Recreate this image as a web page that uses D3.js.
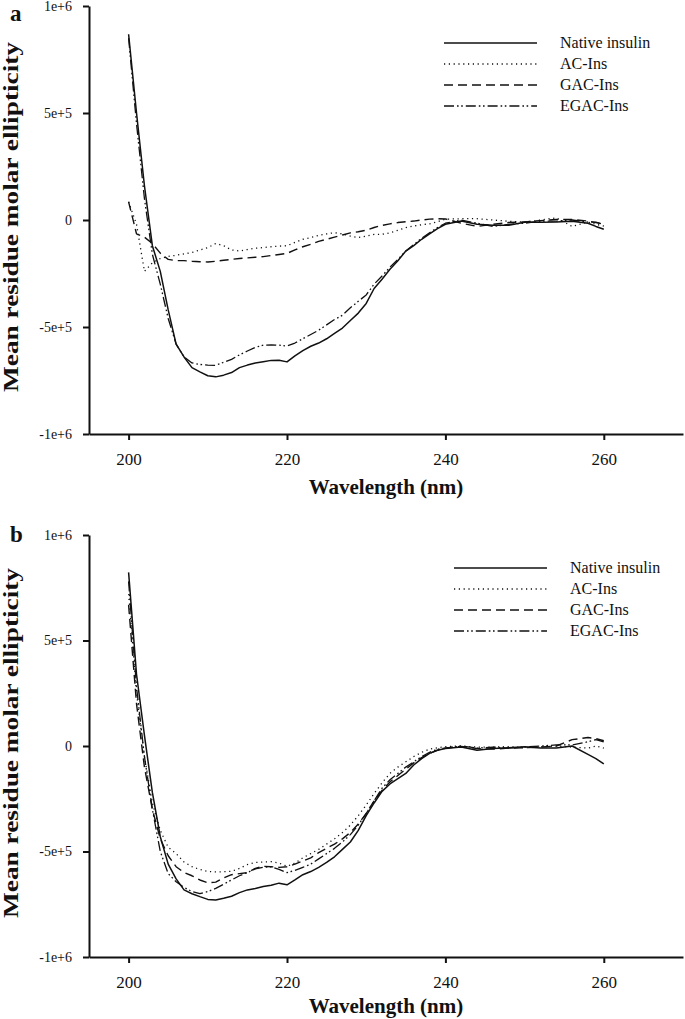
<!DOCTYPE html>
<html>
<head>
<meta charset="utf-8">
<script src="https://cdn.jsdelivr.net/npm/d3@7"></script>
<style>
  html, body { margin: 0; padding: 0; background: #fff; }
  svg { display: block; }
  text { font-family: "Liberation Serif", "Times New Roman", serif; fill: #111; }
</style>
</head>
<body>
<svg id="chart" width="685" height="1019"></svg>
<script>
// ---------------- data ----------------
const wavelengths = [200,201,202,203,204,205,206,207,208,209,210,211,212,213,214,215,216,217,218,219,220,221,222,223,224,225,226,227,228,229,230,231,232,233,234,235,236,237,238,239,240,242,244,246,248,250,252,254,256,258,259,260];

const seriesNames = ["Native insulin", "AC-Ins", "GAC-Ins", "EGAC-Ins"];

// Panel a (values in units of 1e6)
const nativeA = [0.868,0.50,0.16,-0.12,-0.24,-0.42,-0.58,-0.64,-0.69,-0.71,-0.728,-0.733,-0.725,-0.713,-0.69,-0.678,-0.668,-0.662,-0.656,-0.655,-0.663,-0.635,-0.61,-0.59,-0.575,-0.555,-0.53,-0.505,-0.47,-0.435,-0.39,-0.32,-0.277,-0.23,-0.19,-0.145,-0.12,-0.09,-0.065,-0.04,-0.02,-0.005,-0.02,-0.025,-0.025,-0.01,-0.01,-0.009,-0.006,-0.015,-0.03,-0.043];
const acA = [0.085,-0.02,-0.24,-0.2,-0.18,-0.17,-0.165,-0.158,-0.152,-0.14,-0.129,-0.11,-0.12,-0.14,-0.145,-0.138,-0.132,-0.129,-0.125,-0.122,-0.12,-0.105,-0.09,-0.082,-0.072,-0.065,-0.059,-0.065,-0.075,-0.082,-0.075,-0.067,-0.067,-0.06,-0.048,-0.036,-0.028,-0.022,-0.018,-0.008,0.004,0.006,0.006,0.0,-0.006,-0.01,0.0,0.01,-0.03,-0.01,-0.02,-0.028];
const gacA = [0.085,-0.065,-0.08,-0.11,-0.155,-0.184,-0.19,-0.19,-0.193,-0.195,-0.196,-0.193,-0.188,-0.184,-0.18,-0.177,-0.174,-0.171,-0.166,-0.161,-0.156,-0.14,-0.125,-0.114,-0.1,-0.09,-0.08,-0.07,-0.06,-0.055,-0.048,-0.035,-0.025,-0.018,-0.012,-0.008,-0.005,0.0,0.004,0.006,0.005,-0.015,-0.03,-0.02,-0.012,-0.009,-0.003,0.003,0.002,-0.005,-0.012,-0.02];
const egacA = [0.85,0.45,0.10,-0.16,-0.30,-0.46,-0.58,-0.64,-0.668,-0.675,-0.678,-0.679,-0.665,-0.651,-0.63,-0.612,-0.595,-0.585,-0.584,-0.585,-0.589,-0.575,-0.555,-0.535,-0.515,-0.49,-0.465,-0.445,-0.41,-0.38,-0.35,-0.30,-0.262,-0.22,-0.184,-0.145,-0.115,-0.085,-0.06,-0.035,-0.015,0.0,-0.015,-0.03,-0.02,-0.015,-0.005,-0.005,0.0,-0.01,-0.01,-0.02];

// Panel b (values in units of 1e6)
const nativeB = [0.823,0.34,0.05,-0.22,-0.43,-0.56,-0.63,-0.682,-0.70,-0.714,-0.727,-0.73,-0.722,-0.712,-0.695,-0.682,-0.675,-0.666,-0.66,-0.65,-0.658,-0.635,-0.61,-0.595,-0.575,-0.552,-0.525,-0.49,-0.455,-0.40,-0.33,-0.27,-0.215,-0.18,-0.155,-0.13,-0.09,-0.06,-0.035,-0.02,-0.012,-0.005,-0.02,-0.012,-0.008,-0.004,-0.01,-0.01,0.0,-0.04,-0.06,-0.085];
const acB = [0.72,0.25,-0.05,-0.27,-0.40,-0.48,-0.51,-0.55,-0.572,-0.585,-0.595,-0.597,-0.596,-0.594,-0.58,-0.562,-0.552,-0.55,-0.548,-0.555,-0.57,-0.555,-0.53,-0.51,-0.49,-0.465,-0.44,-0.41,-0.375,-0.33,-0.28,-0.225,-0.175,-0.13,-0.10,-0.075,-0.05,-0.03,-0.015,-0.008,-0.003,0.0,-0.005,-0.005,-0.003,-0.008,-0.004,0.0,-0.005,-0.01,0.0,-0.01];
const gacB = [0.668,0.20,-0.10,-0.30,-0.44,-0.52,-0.572,-0.60,-0.615,-0.635,-0.648,-0.645,-0.625,-0.61,-0.605,-0.60,-0.58,-0.57,-0.572,-0.575,-0.572,-0.56,-0.545,-0.53,-0.505,-0.485,-0.465,-0.44,-0.41,-0.37,-0.32,-0.26,-0.21,-0.17,-0.14,-0.11,-0.08,-0.055,-0.035,-0.02,-0.01,-0.002,-0.012,-0.015,-0.01,-0.008,-0.005,0.0,0.03,0.04,0.035,0.025];
const egacB = [0.78,0.28,-0.05,-0.30,-0.50,-0.605,-0.643,-0.67,-0.69,-0.70,-0.69,-0.675,-0.655,-0.635,-0.615,-0.60,-0.582,-0.575,-0.572,-0.585,-0.60,-0.59,-0.575,-0.56,-0.535,-0.51,-0.485,-0.455,-0.42,-0.375,-0.32,-0.26,-0.20,-0.16,-0.13,-0.10,-0.075,-0.05,-0.03,-0.015,-0.01,0.0,-0.01,-0.005,-0.01,-0.005,0.0,0.005,0.005,0.02,0.03,0.02];

const xTicks = [200, 220, 240, 260];
const yTicks = [-1e6, -5e5, 0, 5e5, 1e6];
const yTickLabels = ["-1e+6", "-5e+5", "0", "5e+5", "1e+6"];
const panelLabels = ["a", "b"];

// ---------------- styles ----------------
const dashes = [null, "1.2,3.6", "9,5", "10,3,1.6,2.6,1.6,3"];
const widths = [1.5, 1.3, 1.4, 1.3];

const svg = d3.select("#chart");

const panels = [
  { label: panelLabels[0], series: [nativeA, acA, gacA, egacA], top: 6, bottom: 434, legendX: 444, legendY: 43, labelY: 21, titleY: 494 },
  { label: panelLabels[1], series: [nativeB, acB, gacB, egacB], top: 535, bottom: 957, legendX: 454, legendY: 568, labelY: 542, titleY: 1013 }
];

panels.forEach(p => {
  const g = svg.append("g");
  const x = d3.scaleLinear().domain([195, 270]).range([89, 683]);
  const y = d3.scaleLinear().domain([-1e6, 1e6]).range([p.bottom, p.top]);

  // data lines
  const line = d3.line()
    .x(d => x(d[0]))
    .y(d => y(d[1] * 1e6));

  p.series.forEach((vals, i) => {
    const pts = wavelengths.map((w, k) => [w, vals[k]]);
    g.append("path")
      .datum(pts)
      .attr("d", line)
      .attr("fill", "none")
      .attr("stroke", "#111")
      .attr("stroke-width", widths[i])
      .attr("stroke-linejoin", "round")
      .attr("stroke-dasharray", dashes[i]);
  });

  // y axis
  const ya = g.append("g")
    .attr("transform", `translate(${x(195)},0)`)
    .call(d3.axisLeft(y).tickValues(yTicks).tickFormat((d, i) => yTickLabels[i]).tickSize(6).tickSizeOuter(0).tickPadding(11));
  ya.select(".domain").attr("stroke", "#111").attr("stroke-width", 2);
  ya.selectAll(".tick line").attr("stroke", "#111").attr("stroke-width", 2);
  ya.selectAll(".tick text").attr("font-family", "Liberation Serif, serif").attr("font-size", 14).attr("fill", "#222");

  // x axis
  const xa = g.append("g")
    .attr("transform", `translate(0,${p.bottom})`)
    .call(d3.axisBottom(x).tickValues(xTicks).tickFormat(d3.format("d")).tickSize(6).tickSizeOuter(0).tickPadding(13));
  xa.select(".domain").attr("stroke", "#111").attr("stroke-width", 2);
  xa.selectAll(".tick line").attr("stroke", "#111").attr("stroke-width", 2);
  xa.selectAll(".tick text").attr("font-family", "Liberation Serif, serif").attr("font-size", 17).attr("fill", "#222");

  // axis titles
  g.append("text")
    .attr("x", (x(195) + x(270)) / 2)
    .attr("y", p.titleY)
    .attr("text-anchor", "middle")
    .attr("font-weight", "bold")
    .attr("font-size", 21)
    .text("Wavelength (nm)");

  g.append("text")
    .attr("transform", `translate(18,${(p.top + p.bottom) / 2 - 3}) rotate(-90)`)
    .attr("text-anchor", "middle")
    .attr("font-weight", "bold")
    .attr("font-size", 20)
    .attr("textLength", 350)
    .attr("lengthAdjust", "spacingAndGlyphs")
    .text("Mean residue molar ellipticity");

  // panel label
  g.append("text")
    .attr("x", 10)
    .attr("y", p.labelY)
    .attr("font-weight", "bold")
    .attr("font-size", 23)
    .text(p.label);

  // legend
  seriesNames.forEach((name, i) => {
    const ly = p.legendY + i * 21;
    g.append("line")
      .attr("x1", p.legendX).attr("x2", p.legendX + 93)
      .attr("y1", ly).attr("y2", ly)
      .attr("stroke", "#111")
      .attr("stroke-width", widths[i])
      .attr("stroke-dasharray", dashes[i]);
    g.append("text")
      .attr("x", p.legendX + 116)
      .attr("y", ly + 5)
      .attr("font-size", 16)
      .text(name);
  });
});
</script>
</body>
</html>
